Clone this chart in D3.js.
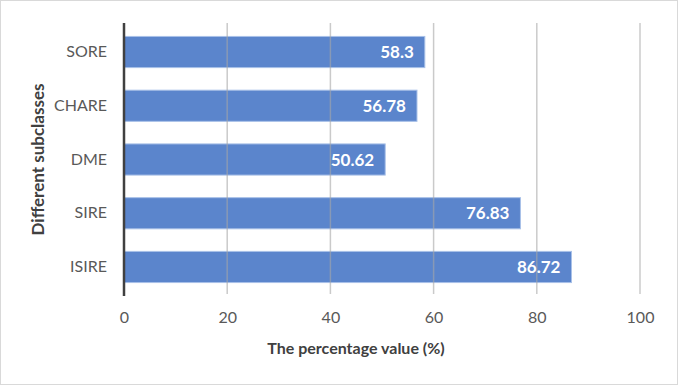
<!DOCTYPE html>
<html>
<head>
<meta charset="utf-8">
<script src="https://cdn.jsdelivr.net/npm/d3@7"></script>
<style>
  body { margin: 0; background: #fff; }
  svg text { font-family: Lato, "Open Sans", sans-serif; }
</style>
</head>
<body>
<div id="chart"></div>
<script>
// data
var categories = ["SORE", "CHARE", "DME", "SIRE", "ISIRE"];
var values = [58.3, 56.78, 50.62, 76.83, 86.72];
var xTicks = [0, 20, 40, 60, 80, 100];

var W = 678, H = 385;
var margin = {top: 23, right: 38, bottom: 89, left: 124},
    width = W - margin.left - margin.right,
    height = H - margin.top - margin.bottom;

var svg = d3.select("#chart").append("svg")
    .attr("width", W)
    .attr("height", H);

// outer frame
svg.append("rect")
    .attr("x", 0.5).attr("y", 0.5)
    .attr("width", W - 1).attr("height", H - 1)
    .attr("fill", "#fff")
    .attr("stroke", "#d9d9d9");

var g = svg.append("g")
    .attr("transform", "translate(" + margin.left + "," + margin.top + ")");

var x = d3.scaleLinear().domain([0, 100]).range([0, width]);
var y = d3.scaleBand().domain(categories).range([0, height])
    .paddingInner(0.42).paddingOuter(0.25);

// bars
g.selectAll(".bar")
    .data(values)
    .enter().append("rect")
    .attr("class", "bar")
    .attr("x", 0)
    .attr("y", function(d, i) { return y(categories[i]); })
    .attr("width", function(d) { return x(d); })
    .attr("height", y.bandwidth())
    .attr("fill", "#5b85cc")
    .attr("stroke", "#a9c1e8")
    .attr("stroke-width", 1);

// gridlines (show through bars)
g.selectAll(".grid")
    .data(xTicks.slice(1))
    .enter().append("line")
    .attr("x1", function(d) { return x(d); })
    .attr("x2", function(d) { return x(d); })
    .attr("y1", 0)
    .attr("y2", height - 2)
    .attr("stroke", "#a6a6a6")
    .attr("stroke-opacity", 0.6)
    .attr("stroke-width", 1.5);

// x axis labels
var xAxis = g.append("g")
    .attr("transform", "translate(0," + height + ")")
    .call(d3.axisBottom(x).tickValues(xTicks).tickSize(0).tickPadding(16));
xAxis.select(".domain").remove();
xAxis.selectAll("text")
    .style("font-size", "16px")
    .attr("fill", "#595959");

// y axis labels
var yAxis = g.append("g")
    .call(d3.axisLeft(y).tickSize(0).tickPadding(17));
yAxis.select(".domain").remove();
yAxis.selectAll("text")
    .style("font-size", "16px")
    .attr("fill", "#595959");

// y axis line
g.append("line")
    .attr("x1", 0).attr("x2", 0)
    .attr("y1", 0).attr("y2", height)
    .attr("stroke", "#404040")
    .attr("stroke-width", 2.5);

// value labels
g.selectAll(".val")
    .data(values)
    .enter().append("text")
    .attr("x", function(d) { return x(d) - 11; })
    .attr("y", function(d, i) { return y(categories[i]) + y.bandwidth() / 2; })
    .attr("dy", "0.36em")
    .attr("text-anchor", "end")
    .attr("fill", "#fff")
    .style("font-size", "17px")
    .style("font-weight", "bold")
    .text(function(d) { return d; });

// axis titles
svg.append("text")
    .attr("x", 356)
    .attr("y", 354)
    .attr("text-anchor", "middle")
    .attr("fill", "#404040")
    .style("font-size", "16px")
    .style("font-weight", "bold")
    .text("The percentage value (%)");

svg.append("text")
    .attr("transform", "translate(44," + (margin.top + height / 2) + ") rotate(-90)")
    .attr("text-anchor", "middle")
    .attr("fill", "#404040")
    .style("font-size", "17px")
    .style("font-weight", "bold")
    .text("Different subclasses");
</script>
</body>
</html>
